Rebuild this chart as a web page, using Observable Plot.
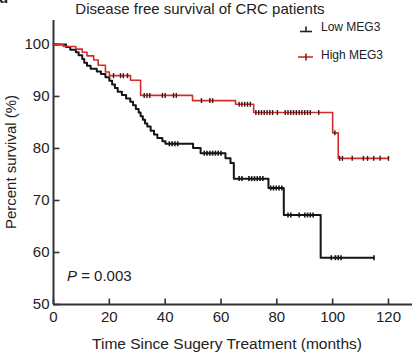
<!DOCTYPE html>
<html><head><meta charset="utf-8">
<script src="https://cdn.jsdelivr.net/npm/d3@7"></script>
<script src="https://cdn.jsdelivr.net/npm/@observablehq/plot@0.6"></script>
<style>
html,body{margin:0;padding:0;background:#fff;}
#wrap{position:relative;width:412px;height:364px;overflow:hidden;font-family:"Liberation Sans",Arial,sans-serif;color:#222;}
#chart{position:absolute;left:0;top:0;}
.abs{position:absolute;white-space:nowrap;line-height:1.15;}
</style></head>
<body>
<div id="wrap">
  <div id="chart"></div>
  <div class="abs" style="left:-1px;top:-11px;font-size:15px;font-weight:bold;">d</div>
  <div class="abs" id="title" style="left:0;width:400px;text-align:center;top:0px;font-size:15px;">Disease free survival of CRC patients</div>
  <div class="abs" id="ylab" style="left:11px;top:162px;font-size:15px;transform:translate(-50%,-50%) rotate(-90deg);">Percent survival (%)</div>
  <div class="abs" id="xlab" style="left:227px;top:335px;font-size:15.5px;transform:translateX(-50%);">Time Since Sugery Treatment (months)</div>
  <div class="abs" id="pval" style="left:67px;top:267px;font-size:15px;"><i>P</i> = 0.003</div>
  <div class="abs" style="left:298px;top:21px;">
    <svg width="18" height="14" style="position:absolute;left:0;top:0"><line x1="2" x2="14" y1="10.5" y2="10.5" stroke="#222" stroke-width="1.6"/><line x1="8" x2="8" y1="5.5" y2="10.5" stroke="#222" stroke-width="1.6"/></svg>
    <span style="position:absolute;left:23px;top:0;font-size:12px;">Low MEG3</span>
  </div>
  <div class="abs" style="left:298px;top:49px;">
    <svg width="18" height="14" style="position:absolute;left:0;top:0"><line x1="0" x2="15" y1="8" y2="8" stroke="#d42b2b" stroke-width="1.6"/><line x1="8" x2="8" y1="4.5" y2="11.5" stroke="#8a2020" stroke-width="1.6"/></svg>
    <span style="position:absolute;left:23px;top:0;font-size:12px;">High MEG3</span>
  </div>
</div>
<script>
// Low MEG3: event times and survival (%) after each step
const lowTimes = [0, 4.5, 6, 8, 9, 10.3, 11, 12, 13.3, 15.5, 17, 18.6, 20, 21, 22, 23, 24.5, 26, 27.5, 28.5, 29.5, 30.5, 31.2, 32, 32.8, 33.6, 34.8, 36, 37.2, 39, 40.1, 50, 52.7, 61.6, 63.4, 64.6, 77, 82.5, 95.7];
const lowSurv  = [100, 99.5, 99.0, 98.5, 97.9, 97.2, 96.5, 95.9, 95.3, 94.8, 94.3, 93.7, 93.0, 92.3, 91.6, 90.9, 90.3, 89.6, 89.0, 88.3, 87.6, 86.9, 86.2, 85.5, 84.8, 84.2, 83.4, 82.7, 82.0, 81.4, 80.9, 80.1, 79.1, 78.1, 77.2, 74.2, 72.4, 67.2, 59.0];
const lowEnd = 114.8;
const lowCensor = [41.5, 42.5, 43.5, 44.5, 54, 55, 56, 57, 58, 59, 60, 66.5, 67.5, 70, 71, 72, 73, 74, 75, 77.8, 78.8, 79.8, 80.8, 81.8, 84, 85, 88, 90, 91, 92, 93, 99.5, 101, 102, 103, 114.8];

// High MEG3
const highTimes = [0, 3.5, 8, 10.3, 12, 14.4, 16, 18.6, 20, 27.6, 31.2, 49.8, 65.2, 71.7, 100, 102];
const highSurv  = [100, 99.6, 99.1, 98.5, 97.8, 97.0, 96.0, 94.7, 94.0, 93.1, 90.2, 89.2, 88.5, 86.9, 83.0, 78.1];
const highEnd = 120;
const highCensor = [21.5, 24, 25, 26.5, 32.5, 33.5, 34.5, 39, 40, 43, 44, 53, 56, 57, 66.5, 67.5, 68.5, 69.5, 70.5, 72.5, 73.5, 74.5, 75.5, 76.5, 77.5, 78.5, 80.2, 83, 84, 85, 86, 87, 88, 89, 90, 91, 92, 95, 100.8, 102.5, 103.5, 107, 111, 112.5, 114.7, 117, 120];

const xTicks = [0, 20, 40, 60, 80, 100, 120];
const yTicks = [50, 60, 70, 80, 90, 100];

function steps(times, surv, end) {
  const pts = times.map((t, i) => ({t, s: surv[i]}));
  pts.push({t: end, s: surv[surv.length - 1]});
  return pts;
}
function censorPts(times, surv, cens) {
  return cens.map(c => {
    const i = d3.bisectRight(times, c) - 1;
    return {t: c, s: surv[Math.max(0, i)]};
  });
}
const lowLine = steps(lowTimes, lowSurv, lowEnd);
const highLine = steps(highTimes, highSurv, highEnd);
const lowC = censorPts(lowTimes, lowSurv, lowCensor);
const highC = censorPts(highTimes, highSurv, highCensor);

const vtick = {draw(ctx) { ctx.moveTo(0, -2.5); ctx.lineTo(0, 2.5); }};
const tickUp = {draw(ctx) { ctx.moveTo(0, 0); ctx.lineTo(0, -6); }};
const tickRight = {draw(ctx) { ctx.moveTo(0, 0); ctx.lineTo(6, 0); }};

const axisColor = "#333";
const chart = Plot.plot({
  width: 412, height: 364,
  marginLeft: 53, marginRight: 0, marginTop: 20, marginBottom: 60,
  x: {domain: [0, 128.6]},
  y: {domain: [50, 104.6]},
  style: {fontFamily: '"Liberation Sans", Arial, sans-serif', fontSize: "15px", color: "#222", background: "transparent"},
  marks: [
    Plot.axisX({ticks: xTicks, tickSize: 0, tickPadding: 7, tickFormat: d => String(d), label: null, fontSize: 15}),
    Plot.axisY({ticks: yTicks, tickSize: 0, tickPadding: 4, tickFormat: d => String(d), label: null, fontSize: 15}),
    Plot.dot(xTicks, {x: d => d, y: () => 50, symbol: tickUp, stroke: axisColor, strokeWidth: 1.6, fill: "none"}),
    Plot.dot(yTicks, {x: () => 0, y: d => d, symbol: tickRight, stroke: axisColor, strokeWidth: 1.6, fill: "none"}),
    Plot.ruleX([0], {stroke: axisColor, strokeWidth: 2}),
    Plot.ruleY([50], {stroke: axisColor, strokeWidth: 2}),
    Plot.line(lowLine, {x: "t", y: "s", curve: "step-after", stroke: "#151515", strokeWidth: 2}),
    Plot.line(highLine, {x: "t", y: "s", curve: "step-after", stroke: "#d42b2b", strokeWidth: 1.6}),
    Plot.dot(lowC, {x: "t", y: "s", symbol: vtick, stroke: "#151515", strokeWidth: 1.6, fill: "none"}),
    Plot.dot(highC, {x: "t", y: "s", symbol: vtick, stroke: "#3a1a1a", strokeWidth: 1.4, fill: "none"})
  ]
});
document.getElementById("chart").appendChild(chart);
</script>
</body></html>
